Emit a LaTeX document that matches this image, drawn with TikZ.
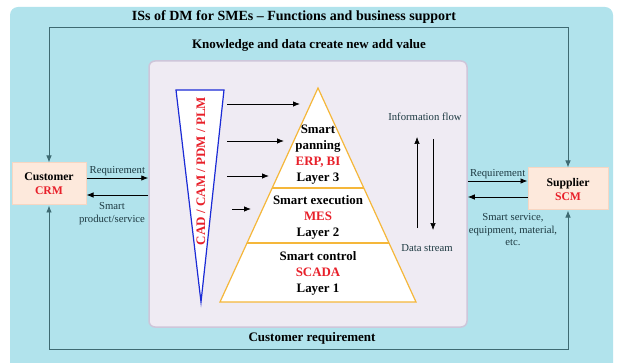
\documentclass[tikz,border=0pt]{standalone}
\usepackage{fontspec}
\setmainfont{Liberation Serif}
\usetikzlibrary{positioning, calc, arrows.meta}

\definecolor{bgcyan}{HTML}{B1E3EC}
\definecolor{frameline}{HTML}{3E6A72}
\definecolor{panelfill}{HTML}{EFEBF3}
\definecolor{panelline}{HTML}{CEC6DA}
\definecolor{peach}{HTML}{FDE9DC}
\definecolor{peachline}{HTML}{F7D6C2}
\definecolor{pyrline}{HTML}{F5B73A}
\definecolor{wedgeblue}{HTML}{1B2BD6}
\definecolor{redtxt}{HTML}{E8202A}
\definecolor{lbltxt}{HTML}{1E3A42}

\tikzset{
  title/.style={font=\bfseries\fontsize{13}{15}\selectfont},
  lbl/.style={font=\fontsize{10.7}{13}\selectfont, text=lbltxt, align=center, inner sep=1.5pt},
  party/.style={draw=peachline, line width=1pt, fill=peach, minimum width=74pt,
    minimum height=42pt, align=center, font=\bfseries\fontsize{11.7}{14}\selectfont},
  layer/.style={align=center, font=\bfseries\fontsize{12.9}{16}\selectfont},
  conn/.style={-{Latex[length=7pt, width=5.5pt]}, line width=0.8pt}
}

\begin{document}
\begin{tikzpicture}[x=1pt, y=-1pt]
\useasboundingbox (0,0) rectangle (620,363);

% background and core panel
\fill[bgcyan, rounded corners=8pt] (10,7) rectangle (613,372);
\node[draw=panelline, line width=1.5pt, fill=panelfill, rounded corners=6pt,
  minimum width=318pt, minimum height=266pt, inner sep=0pt] (core) at (308,194) {};

\node[title, font=\bfseries\fontsize{14}{16}\selectfont] (head) at (294,17)
  {ISs of DM for SMEs -- Functions and business support};
\node[title] (know) at (309,45) {Knowledge and data create new add value};
\node[title] (creq) at (312,338) {Customer requirement};

% customer and supplier
\node[party] (cust) at (49,184) {Customer\\\textcolor{redtxt}{CRM}};
\node[party, minimum width=80pt] (supp) at (568,189) {Supplier\\\textcolor{redtxt}{SCM}};

\coordinate (tl) at (cust.north |- 0,27);
\coordinate (tr) at (supp.north |- 0,27);
\coordinate (bl) at (cust.north |- 0,349);
\coordinate (br) at (supp.north |- 0,349);
\draw[conn, {Latex[length=7pt, width=5.5pt]}-{Latex[length=7pt, width=5.5pt]}, draw=frameline]
  (cust.north) -- (tl) -- (tr) -- (supp.north);
\draw[conn, {Latex[length=7pt, width=5.5pt]}-{Latex[length=7pt, width=5.5pt]}, draw=frameline]
  (cust.south) -- (bl) -- (br) -- (supp.south);

% requirement loops
\coordinate (c1) at ([yshift=6pt]cust.east);
\coordinate (c2) at ([yshift=-11pt]cust.east);
\draw[conn] (c1) -- (c1 -| core.west) node[midway, above, lbl] {Requirement};
\draw[conn] (c2 -| core.west) -- (c2);
\node[lbl] (prodlbl) at (112,214) {Smart\\product/service};

\coordinate (s1) at ([yshift=8pt]supp.west);
\coordinate (s2) at ([yshift=-8pt]supp.west);
\draw[conn] (s1 -| core.east) -- (s1) node[midway, above, lbl] {Requirement};
\draw[conn] (s2) -- (s2 -| core.east);
\node[lbl, font=\fontsize{10.7}{12.5}\selectfont] (servlbl) at (513,230)
  {Smart service,\\equipment, material,\\etc.};

% CAD wedge
\draw[wedgeblue, line width=1.2pt, fill=white] (176,90) -- (224,90) -- (201,302) -- cycle;
\node[rotate=90, text=redtxt, font=\bfseries\fontsize{13}{15}\selectfont] (cad) at (201,171)
  {CAD / CAM / PDM / PLM};

% pyramid
\coordinate (pl) at (220,302);
\coordinate (pt) at (318,88);
\coordinate (pr) at (416,302);
\draw[pyrline, line width=1.2pt, fill=white] (pl) -- (pt) -- (pr) -- cycle;
\draw[pyrline, line width=1.2pt] ($(pl)!0.5327!(pt)$) -- ($(pr)!0.5327!(pt)$);
\draw[pyrline, line width=1.2pt] ($(pl)!0.2757!(pt)$) -- ($(pr)!0.2757!(pt)$);

\node[layer] (l3) at (318,155) {Smart\\panning\\\textcolor{redtxt}{ERP, BI}\\Layer 3};
\node[layer] (l2) at (318,217) {Smart execution\\\textcolor{redtxt}{MES}\\Layer 2};
\node[layer] (l1) at (318,273) {Smart control\\\textcolor{redtxt}{SCADA}\\Layer 1};

% feeds from wedge to pyramid
\foreach \y/\xa/\xb in {104/227/300, 141/227/284, 176/227/269, 209/232/251} {
  \coordinate (fa) at (\xa,\y);
  \coordinate (fb) at (\xb,\y);
  \draw[conn] (fa) -- (fb);
}

% information flow
\node[lbl] (info) at (425,117) {Information flow};
\node[lbl] (data) at (427,248) {Data stream};
\coordinate (u1) at (417,228);
\coordinate (u2) at (417,137);
\coordinate (d1) at (433,139);
\coordinate (d2) at (433,230);
\draw[conn, line width=0.6pt] (u1) -- (u2);
\draw[conn, line width=0.6pt] (d1) -- (d2);
\end{tikzpicture}
\end{document}
